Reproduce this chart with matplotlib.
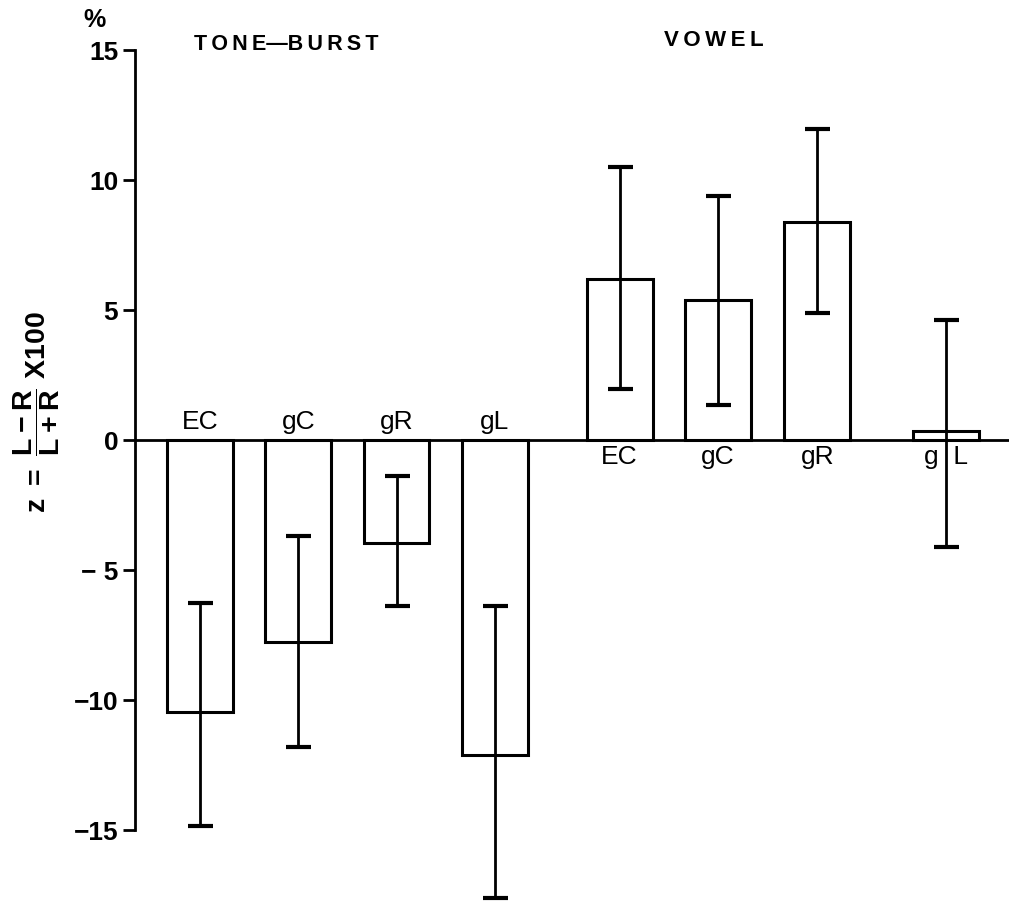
import numpy as np
import matplotlib
matplotlib.use("Agg")
import matplotlib.pyplot as plt

plt.rcParams['font.family'] = ['Liberation Sans', 'DejaVu Sans']
plt.rcParams['mathtext.fontset'] = 'custom'
plt.rcParams['mathtext.rm'] = 'Liberation Sans:bold'
plt.rcParams['mathtext.it'] = 'Liberation Sans:bold'
plt.rcParams['mathtext.bf'] = 'Liberation Sans:bold'

# data
tone_labels = ["EC", "gC", "gR", "gL"]
tone_vals = [-10.45, -7.75, -3.95, -12.1]
tone_err_lo = [-14.85, -11.8, -6.4, -17.6]
tone_err_hi = [-6.25, -3.7, -1.4, -6.4]

vowel_labels = ["EC", "gC", "gR", "g  L"]
vowel_vals = [6.2, 5.4, 8.4, 0.35]
vowel_err_lo = [1.95, 1.35, 4.9, -4.1]
vowel_err_hi = [10.5, 9.4, 11.95, 4.6]

tone_x = np.array([0, 1, 2, 3])
vowel_x = np.array([4.27, 5.27, 6.28, 7.59])

yticks = [15, 10, 5, 0, -5, -10, -15]
ytick_labels = ["15", "10", "5", "0", "\u2212 5", "\u221210", "\u221215"]

fig = plt.figure(figsize=(10.09, 9.01), dpi=100)
ax = fig.add_axes([135 / 1009, 0, 1 - 135 / 1009, 1 - 24 / 901])
ax.set_xlim(-0.66, 8.23)
ax.set_ylim(-17.73, 16)

w = 0.67
for xs, vals, lo, hi in [(tone_x, tone_vals, tone_err_lo, tone_err_hi),
                         (vowel_x, vowel_vals, vowel_err_lo, vowel_err_hi)]:
    vals = np.array(vals)
    yerr = [vals - np.array(lo), np.array(hi) - vals]
    ax.bar(xs, vals, width=w, color="white", edgecolor="black", linewidth=2.2, zorder=2)
    ax.errorbar(xs, vals, yerr=yerr, fmt="none", ecolor="black", elinewidth=2,
                capsize=9, capthick=3, zorder=3, clip_on=False)

ax.axhline(0, color="black", linewidth=2, zorder=4)

for x, lab in zip(tone_x, tone_labels):
    ax.text(x, 0.25, lab, ha="center", va="bottom", fontsize=19)
for x, lab in zip(vowel_x, vowel_labels):
    ax.text(x, -0.2, lab, ha="center", va="top", fontsize=19)

sp = "\u2009"
ax.text(-0.06, 15.2, sp.join("TONE") + "\u2014" + sp.join("BURST"), ha="left", va="center",
        fontsize=15.5, fontweight="bold")
ax.text(5.23, 15.35, sp.join("VOWEL"), ha="center", va="center",
        fontsize=16, fontweight="bold")

for s in ["top", "right", "bottom"]:
    ax.spines[s].set_visible(False)
ax.spines["left"].set_linewidth(2)
ax.spines["left"].set_bounds(-15, 15)
ax.set_xticks([])
ax.set_yticks(yticks)
ax.set_yticklabels(ytick_labels, fontsize=19, fontweight="bold")
ax.tick_params(axis="y", direction="out", length=9, width=2, pad=3)

fig.text(95 / 1009, 1 - 20 / 901, "%", ha="center", va="center", fontsize=18, fontweight="bold")
fig.text(37 / 1009, 1 - 412 / 901, r"$z\ =\ \dfrac{L-R}{L+R}\ X100$",
         rotation=90, ha="center", va="center", fontsize=20.5)

fig.savefig("out.png", dpi=100)
